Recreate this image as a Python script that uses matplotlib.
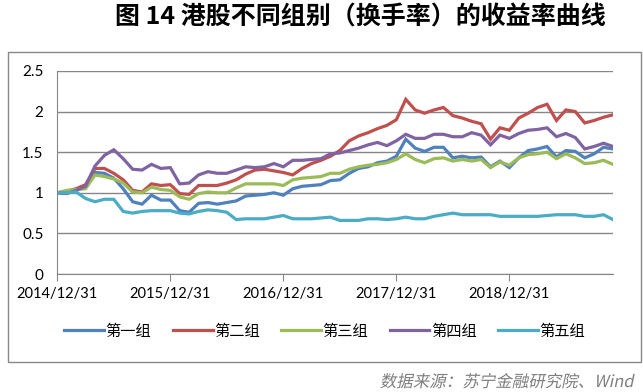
import numpy as np
import matplotlib
matplotlib.use('Agg')
import matplotlib.pyplot as plt
from matplotlib.patches import Rectangle, PathPatch
from matplotlib.textpath import TextPath
from matplotlib.font_manager import FontProperties
from matplotlib.transforms import Affine2D

plt.rcParams['font.family'] = ['Noto Sans CJK SC', 'DejaVu Sans']

# monthly values, 2014/12 .. 2019/11
group1 = [1.00, 1.00, 1.03, 1.08, 1.25, 1.24, 1.18, 1.05, 0.89, 0.86,
          0.97, 0.91, 0.91, 0.78, 0.76, 0.87, 0.88, 0.86, 0.88, 0.90,
          0.96, 0.97, 0.98, 1.00, 0.97, 1.05, 1.08, 1.09, 1.10, 1.15,
          1.16, 1.24, 1.30, 1.32, 1.37, 1.39, 1.45, 1.66, 1.55, 1.51,
          1.56, 1.56, 1.43, 1.45, 1.43, 1.44, 1.32, 1.39, 1.31, 1.43,
          1.52, 1.54, 1.57, 1.44, 1.52, 1.51, 1.43, 1.48, 1.56, 1.54]
group2 = [1.00, 1.02, 1.05, 1.10, 1.30, 1.30, 1.24, 1.16, 1.03, 1.01,
          1.11, 1.09, 1.10, 0.99, 0.98, 1.09, 1.09, 1.09, 1.12, 1.16,
          1.23, 1.28, 1.29, 1.27, 1.25, 1.22, 1.30, 1.36, 1.40, 1.45,
          1.52, 1.64, 1.70, 1.74, 1.79, 1.83, 1.90, 2.15, 2.02, 1.98,
          2.02, 2.05, 1.95, 1.92, 1.88, 1.85, 1.66, 1.80, 1.77, 1.92,
          1.98, 2.05, 2.09, 1.89, 2.02, 2.00, 1.86, 1.89, 1.93, 1.96]
group3 = [1.00, 1.03, 1.04, 1.05, 1.22, 1.20, 1.17, 1.12, 1.01, 1.00,
          1.07, 1.04, 1.03, 0.95, 0.92, 0.99, 1.01, 1.00, 1.00, 1.06,
          1.11, 1.11, 1.11, 1.11, 1.09, 1.16, 1.18, 1.19, 1.20, 1.24,
          1.24, 1.29, 1.32, 1.34, 1.35, 1.37, 1.41, 1.48, 1.41, 1.37,
          1.42, 1.43, 1.39, 1.41, 1.39, 1.41, 1.31, 1.38, 1.34, 1.43,
          1.47, 1.48, 1.50, 1.42, 1.48, 1.43, 1.36, 1.37, 1.40, 1.35]
group4 = [1.00, 0.99, 1.03, 1.08, 1.33, 1.46, 1.53, 1.42, 1.29, 1.28,
          1.35, 1.30, 1.31, 1.11, 1.12, 1.22, 1.26, 1.24, 1.24, 1.28,
          1.32, 1.31, 1.32, 1.36, 1.32, 1.40, 1.40, 1.41, 1.42, 1.48,
          1.49, 1.52, 1.55, 1.59, 1.62, 1.58, 1.64, 1.72, 1.67, 1.67,
          1.72, 1.72, 1.69, 1.69, 1.74, 1.71, 1.59, 1.71, 1.67, 1.73,
          1.77, 1.78, 1.80, 1.69, 1.73, 1.68, 1.54, 1.57, 1.61, 1.57]
group5 = [1.00, 1.00, 1.01, 0.93, 0.89, 0.92, 0.92, 0.77, 0.75, 0.77,
          0.78, 0.78, 0.78, 0.75, 0.74, 0.77, 0.79, 0.78, 0.76, 0.67,
          0.68, 0.68, 0.68, 0.70, 0.72, 0.68, 0.68, 0.68, 0.69, 0.70,
          0.66, 0.66, 0.66, 0.68, 0.68, 0.67, 0.68, 0.70, 0.68, 0.68,
          0.71, 0.73, 0.75, 0.73, 0.73, 0.73, 0.73, 0.71, 0.71, 0.71,
          0.71, 0.71, 0.72, 0.73, 0.73, 0.73, 0.71, 0.71, 0.73, 0.67]

names = ['第一组', '第二组', '第三组', '第四组', '第五组']
colors = ['#4F81BD', '#C0504D', '#9BBB59', '#8064A2', '#4BACC6']
xlabels = ['2014/12/31', '2015/12/31', '2016/12/31', '2017/12/31', '2018/12/31']
source = '数据来源：苏宁金融研究院、Wind'

fig = plt.figure(figsize=(6.43, 3.92), dpi=100)
ax = fig.add_axes([0.0891, 0.301, 0.8642, 0.518])

x = np.arange(len(group1))
for vals, name, col in zip([group1, group2, group3, group4, group5], names, colors):
    ax.plot(x, vals, color=col, lw=2.3, label=name, solid_joinstyle='miter')

ax.set_xlim(0, len(group1) - 1)
ax.set_ylim(0, 2.5)
ax.set_yticks(np.arange(0, 2.51, 0.5))
ax.set_yticklabels(['0', '0.5', '1', '1.5', '2', '2.5'])
ax.set_xticks(np.arange(0, len(group1), 12))
ax.set_xticklabels(xlabels)
ax.grid(axis='y', color='#868686', lw=1)
ax.set_axisbelow(True)
for s in ['top', 'right']:
    ax.spines[s].set_visible(False)
for s in ['left', 'bottom']:
    ax.spines[s].set_color('#868686')
ax.tick_params(axis='y', length=0, pad=10, labelsize=11)
ax.tick_params(axis='x', length=5, color='#868686', direction='out', pad=4, labelsize=10.5)
for lab in ax.get_xticklabels() + ax.get_yticklabels():
    lab.set_family(['Lato', 'DejaVu Sans'])

leg = fig.legend(loc='center', bbox_to_anchor=(0.505, 0.155), ncol=5, frameon=False,
                 fontsize=11, handlelength=2.6, handletextpad=0.1, columnspacing=1.4)

fig.patches.append(Rectangle((8 / 643, 1 - 362 / 392), 633 / 643, 310 / 392,
                             transform=fig.transFigure, fill=False, ec='#888888', lw=1))

fig.text(0.56, 0.955, '图 14 港股不同组别（换手率）的收益率曲线', ha='center', va='center',
         fontsize=18, fontweight='bold')

# italic source line: CJK font has no italic face, so slant the outline
tp = TextPath((0, 0), source, size=16.5, prop=FontProperties(family=['Noto Sans CJK SC', 'DejaVu Sans']))
w = tp.get_extents().x1
tr = Affine2D().skew_deg(12, 0).translate(632 - w, 392 - 387)
fig.patches.append(PathPatch(tr.transform_path(tp), fc='#7F7F7F', ec='none',
                             transform=None))

fig.savefig('out.png', dpi=100)
